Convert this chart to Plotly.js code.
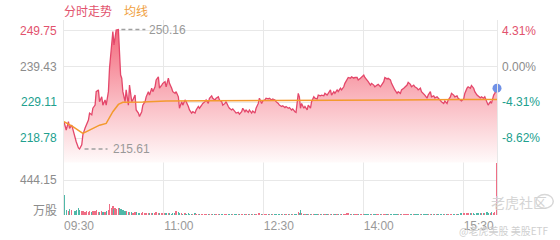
<!DOCTYPE html>
<html><head><meta charset="utf-8">
<script src="https://cdn.plot.ly/plotly-3.0.1.min.js"></script>
<style>html,body{margin:0;padding:0;background:#fff}#chart{width:560px;height:240px}</style>
</head><body><div id="chart"></div>
<script>
const prevClose = 239.43;
const priceTickVals = [218.78, 229.11, 239.43, 249.75];
const priceTickText = ['218.78', '229.11', '239.43', '249.75'];
const pctTickText = ['-8.62%', '-4.31%', '0.00%', '4.31%'];
const volTickVals = [444.15];
const volTickText = ['444.15'];
const volUnit = '万股';
const timeTickLabels = ['09:30', '11:00', '12:30', '14:00', '15:30'];
const sessionOpen = '09:30';
const sessionClose = '16:00';
const highPrice = 250.16;
const lowPrice = 215.61;

const times = [
 '09:30','09:32','09:34','09:35','09:37','09:40','09:41','09:43','09:44','09:46',
 '09:47','09:49','09:50','09:52','09:53','09:55','09:56','09:58','09:59','10:01',
 '10:02','10:04','10:05','10:07','10:08','10:10','10:11','10:13','10:14','10:15',
 '10:16','10:17','10:19','10:20','10:21','10:22','10:23','10:25','10:26','10:28',
 '10:29','10:31','10:32','10:34','10:35','10:37','10:38','10:40','10:41','10:43',
 '10:44','10:46','10:47','10:49','10:50','10:52','10:53','10:55','10:56','10:58',
 '10:59','11:01','11:02','11:04','11:05','11:07','11:08','11:10','11:11','11:13',
 '11:14','11:16','11:17','11:19','11:20','11:22','11:23','11:25','11:26','11:28',
 '11:29','11:31','11:32','11:34','11:35','11:37','11:38','11:40','11:41',
 '11:43','11:44','11:46','11:47','11:49','11:50','11:52','11:53','11:55','11:56',
 '11:58','11:59','12:01','12:02','12:04','12:05','12:07','12:08','12:10','12:11',
 '12:13','12:14','12:16','12:17','12:19','12:20','12:22','12:23','12:25','12:26',
 '12:28','12:29','12:31','12:32','12:34','12:35','12:37','12:38','12:40','12:41',
 '12:43','12:44','12:46','12:47','12:49','12:50','12:52','12:53','12:55','12:56',
 '12:58','12:59','13:01','13:02','13:03','13:04','13:06','13:07','13:09','13:10',
 '13:12','13:13','13:15','13:16','13:18','13:19','13:21','13:22','13:24','13:25',
 '13:27','13:28','13:30','13:31','13:33','13:34','13:36','13:37','13:39','13:40',
 '13:42','13:43','13:45','13:46','13:48','13:49','13:51','13:52',
 '13:54','13:55','13:57','13:58','14:00','14:01','14:03','14:04','14:06','14:07',
 '14:09','14:10','14:12','14:13','14:15','14:16','14:18','14:19','14:21','14:22',
 '14:24','14:25','14:27','14:28','14:30','14:31','14:33','14:34','14:36','14:37',
 '14:39','14:40','14:42','14:43','14:45','14:46','14:48','14:49','14:51','14:52',
 '14:54','14:55','14:57','14:58','15:00','15:01','15:03','15:04','15:06','15:07',
 '15:09','15:10','15:12','15:13','15:15','15:16','15:18','15:19','15:21','15:22',
 '15:24','15:25','15:27','15:28','15:30','15:31','15:33','15:34','15:36','15:37',
 '15:39','15:40','15:42','15:43','15:45','15:46','15:48','15:49','15:51','15:52',
 '15:54','15:55','15:57','15:58','16:00'
];

const prices = [
 223.5,221.1,223.5,221.6,222.5,218.7,217.7,215.9,215.61,216.8,
 219.7,221.7,222.6,224.0,226.0,225.5,227.4,228.3,232.2,232.7,
 229.3,230.7,228.3,229.8,228.3,232.2,239.0,246.7,249.6,245.7,
 247.6,250.0,250.16,242.8,237.0,236.1,232.2,229.3,232.7,228.3,
 234.1,229.3,229.8,231.2,226.9,226.0,225.0,226.4,228.3,229.3,
 230.7,232.2,231.2,233.2,232.2,233.6,235.6,236.5,233.2,234.1,
 234.6,235.1,233.6,236.1,234.6,233.2,232.2,231.7,232.2,230.7,
 227.4,229.3,228.3,229.8,229.3,227.9,226.9,226.0,226.4,226.0,
 226.9,227.9,227.4,228.3,228.8,229.3,229.8,228.8,230.3,
 231.0,230.3,229.8,230.3,230.7,229.8,229.3,228.3,228.8,229.3,
 227.9,227.4,226.9,227.2,226.4,226.0,226.2,225.7,226.4,227.4,
 226.4,226.9,226.2,226.9,226.0,226.6,226.0,227.4,228.8,230.3,
 228.8,229.5,229.8,230.3,230.1,230.3,229.8,230.1,229.8,229.3,
 228.8,228.3,227.9,228.1,227.6,227.9,227.4,227.6,226.9,227.2,
 226.4,226.2,231.7,230.7,227.4,228.8,227.4,227.9,226.9,228.3,
 227.4,229.3,230.7,230.3,230.1,231.2,231.0,231.2,231.0,231.7,
 231.2,231.7,232.7,231.2,232.2,231.7,232.7,232.2,233.2,232.7,
 233.6,234.6,235.6,236.3,236.1,236.5,236.1,236.3,
 236.3,235.6,236.1,236.5,237.0,236.3,235.6,235.1,234.1,234.6,
 234.1,233.6,234.1,234.3,233.6,234.1,235.1,236.3,235.9,236.1,
 235.6,234.6,233.6,232.7,231.7,232.2,231.7,232.7,233.2,233.6,
 234.1,234.9,234.3,233.6,234.1,233.6,233.2,232.7,233.2,232.2,
 231.7,231.2,230.3,231.2,232.2,230.7,231.0,230.4,230.7,230.3,
 229.8,229.3,228.8,229.5,228.8,229.8,230.7,231.7,231.2,230.7,
 231.0,230.3,229.8,229.5,230.1,231.7,233.2,233.6,233.2,234.0,
 233.2,232.2,231.2,231.0,230.4,230.7,230.3,230.7,228.8,228.3,
 229.3,228.8,231.2,231.7,233.2
];

const volumes = [
 254,62,55,70,58,50,66,88,60,45,
 48,42,52,40,55,38,45,50,58,42,
 40,45,38,44,50,60,140,95,110,80,
 88,75,90,85,70,78,65,55,48,35,
 40,32,30,35,38,28,30,26,34,30,
 28,25,30,27,24,28,32,25,22,26,
 22,20,24,21,25,19,22,20,48,40,
 30,22,18,20,17,21,19,16,18,20,
 17,15,18,16,19,15,17,14,16,
 15,17,14,16,18,15,13,16,14,15,
 13,15,12,14,16,13,12,15,14,13,
 12,14,13,15,12,14,13,16,22,30,
 18,14,15,13,12,14,13,12,14,13,
 12,11,13,12,14,11,13,12,11,13,
 14,16,35,28,62,30,18,15,14,13,
 12,14,18,16,13,15,12,14,13,12,
 14,13,12,15,13,12,14,16,15,14,
 13,15,22,28,18,14,15,13,
 14,12,13,15,14,12,13,11,12,14,
 13,12,14,15,13,12,11,13,12,14,
 13,12,15,14,13,12,14,13,12,11,
 13,12,14,13,12,14,15,13,12,14,
 13,15,14,12,16,14,13,15,14,13,
 15,14,13,16,15,14,13,15,14,16,
 18,15,20,24,28,22,30,26,24,20,
 22,18,25,20,28,24,30,26,32,28,
 30,34,28,36,666
];

const avgTimes = ['09:30','09:38','09:47','09:56','10:02','10:08','10:11','10:14','10:19','10:23','10:41','11:02','11:41','12:30','13:30','14:30','15:30','16:00'];
const avgPrices = [223.5,222.1,220.1,221.6,222.5,223.0,224.5,226.4,228.5,229.1,229.2,229.5,229.6,229.6,229.7,229.8,229.9,229.9];

function toMinRaw(t) { const [h, m] = t.split(':').map(Number); return h * 60 + m; }
const toMin = t => toMinRaw(t) - toMinRaw(sessionOpen);

const px = times.map(toMin);
const ax = avgTimes.map(toMin);
const endMin = toMin(sessionClose);
const tickVals = timeTickLabels.map(toMin).concat([endMin]);
const tickText = timeTickLabels.concat(['']);

const upColor = '#ef6f86', downColor = '#4fb8a8';
const volColors = prices.map((p, i) => p >= (i ? prices[i - 1] : prevClose) ? upColor : downColor);

const priceRange = [211.70, 252.93];
const grid = '#e8e8e8';

const hiIdx = prices.indexOf(highPrice), loIdx = prices.indexOf(lowPrice);
const last = prices.length - 1;

const traces = [
 {x: px, y: prices, type: 'scatter', mode: 'lines', xaxis: 'x', yaxis: 'y',
  line: {color: '#e4476a', width: 1.3}, fill: 'tozeroy',
  fillgradient: {type: 'vertical', start: priceRange[0], stop: highPrice,
   colorscale: [[0, 'rgb(255,250,250)'], [0.45, 'rgb(250,188,195)'], [1, 'rgb(243,105,124)']]},
  hoverinfo: 'skip'},
 {x: ax, y: avgPrices, type: 'scatter', mode: 'lines', xaxis: 'x', yaxis: 'y',
  line: {color: '#f39a2e', width: 1.5}, hoverinfo: 'skip'},
 {x: [px[last]], y: [prices[last]], type: 'scatter', mode: 'markers', xaxis: 'x', yaxis: 'y',
  marker: {size: 9, color: '#7091e6'}, cliponaxis: false, hoverinfo: 'skip'},
 {x: px, y: volumes, type: 'bar', xaxis: 'x2', yaxis: 'y2', width: 1.2,
  marker: {color: volColors, line: {width: 0}}, hoverinfo: 'skip'}
];

const font = 'Liberation Sans, Arial, sans-serif';
const cjk = 'Noto Sans CJK SC, sans-serif';
const leftColors = ['#21a08e', '#21a08e', '#8c8c8c', '#e2526d'];

const annotations = [];
priceTickVals.forEach((v, i) => {
 annotations.push({xref: 'paper', yref: 'y', x: 0, y: v, xanchor: 'right', yanchor: 'middle', xshift: -5,
  text: priceTickText[i], showarrow: false, font: {family: font, size: 12, color: leftColors[i]}});
 annotations.push({xref: 'paper', yref: 'y', x: 1, y: v, xanchor: 'left', yanchor: 'middle', xshift: 3,
  text: pctTickText[i], showarrow: false, font: {family: font, size: 12, color: leftColors[i]}});
});
volTickVals.forEach((v, i) => {
 annotations.push({xref: 'paper', yref: 'y2', x: 0, y: v, xanchor: 'right', yanchor: 'middle', xshift: -5,
  text: volTickText[i], showarrow: false, font: {family: font, size: 12, color: '#8c8c8c'}});
});
annotations.push({xref: 'paper', yref: 'paper', x: 0, y: 0, xanchor: 'right', yanchor: 'middle', xshift: -5, yshift: 6,
 text: volUnit, showarrow: false, font: {family: cjk, size: 12, color: '#8c8c8c'}});
annotations.push({xref: 'paper', yref: 'paper', x: 0, y: 1, xanchor: 'left', yanchor: 'bottom', xshift: -2, yshift: -1,
 text: '分时走势', showarrow: false, font: {family: cjk, size: 12, color: '#e2526d'}});
annotations.push({xref: 'paper', yref: 'paper', x: 0, y: 1, xanchor: 'left', yanchor: 'bottom', xshift: 58, yshift: -1,
 text: '均线', showarrow: false, font: {family: cjk, size: 12, color: '#f0a040'}});
annotations.push({xref: 'x', yref: 'y', x: px[hiIdx], y: highPrice, xanchor: 'left', yanchor: 'middle', xshift: 29,
 text: highPrice.toFixed(2), showarrow: false, font: {family: font, size: 12, color: '#999'}});
annotations.push({xref: 'x', yref: 'y', x: px[loIdx], y: lowPrice, xanchor: 'left', yanchor: 'middle', xshift: 31,
 text: lowPrice.toFixed(2), showarrow: false, font: {family: font, size: 12, color: '#999'}});
annotations.push({xref: 'paper', yref: 'paper', x: 1, y: 0, xanchor: 'right', yanchor: 'middle', xshift: 52, yshift: 13,
 text: '老虎社区', showarrow: false, font: {family: cjk, size: 14, color: '#d4d4d4'}});
annotations.push({xref: 'paper', yref: 'paper', x: 1, y: 0, xanchor: 'right', yanchor: 'top', xshift: 54, yshift: -6,
 text: '@老虎美股 美股ETF', showarrow: false, font: {family: cjk, size: 10, color: '#cfcfcf'}});

const shapes = [
 {type: 'line', xref: 'x', yref: 'y', xsizemode: 'pixel', xanchor: px[hiIdx], x0: 3, x1: 27, y0: highPrice, y1: highPrice,
  line: {color: '#a0a0a0', width: 1.5, dash: '4px,3px'}},
 {type: 'line', xref: 'x', yref: 'y', xsizemode: 'pixel', xanchor: px[loIdx], x0: 5, x1: 28, y0: lowPrice, y1: lowPrice,
  line: {color: '#a0a0a0', width: 1.5, dash: '4px,3px'}},
 {type: 'circle', xref: 'paper', yref: 'paper', x0: 1.09, x1: 1.13, y0: 0.035, y1: 0.105,
  line: {color: '#d8d8d8', width: 1.5}}
];

const layout = {
 width: 560, height: 240, margin: {l: 64, r: 63, t: 20, b: 25, pad: 0},
 paper_bgcolor: '#fff', plot_bgcolor: '#fff', showlegend: false,
 font: {family: font, size: 12, color: '#999'},
 xaxis: {anchor: 'y', domain: [0, 1], range: [0, endMin], tickvals: tickVals, showticklabels: false,
  showgrid: true, gridcolor: grid, zeroline: false, ticks: '', fixedrange: true},
 xaxis2: {anchor: 'y2', domain: [0, 1], range: [0, endMin], tickvals: tickVals, ticktext: tickText,
  showgrid: true, gridcolor: grid, zeroline: false, ticks: '', ticklabelshift: 15, ticklabelstandoff: 2,
  tickfont: {family: font, size: 12, color: '#999'}, fixedrange: true},
 yaxis: {anchor: 'x', domain: [0.2692, 1], range: priceRange, tickvals: priceTickVals, showticklabels: false,
  showgrid: true, gridcolor: grid, zeroline: false, showline: true, mirror: true, linecolor: grid, ticks: ''},
 yaxis2: {anchor: 'x2', domain: [0, 0.2692], range: [0, 666.2], tickvals: volTickVals, showticklabels: false,
  showgrid: true, gridcolor: grid, zeroline: false, showline: true, mirror: true, linecolor: grid, ticks: ''},
 annotations: annotations, shapes: shapes, bargap: 0
};

Plotly.newPlot('chart', traces, layout, {staticPlot: true, displayModeBar: false});
</script>
</body></html>
